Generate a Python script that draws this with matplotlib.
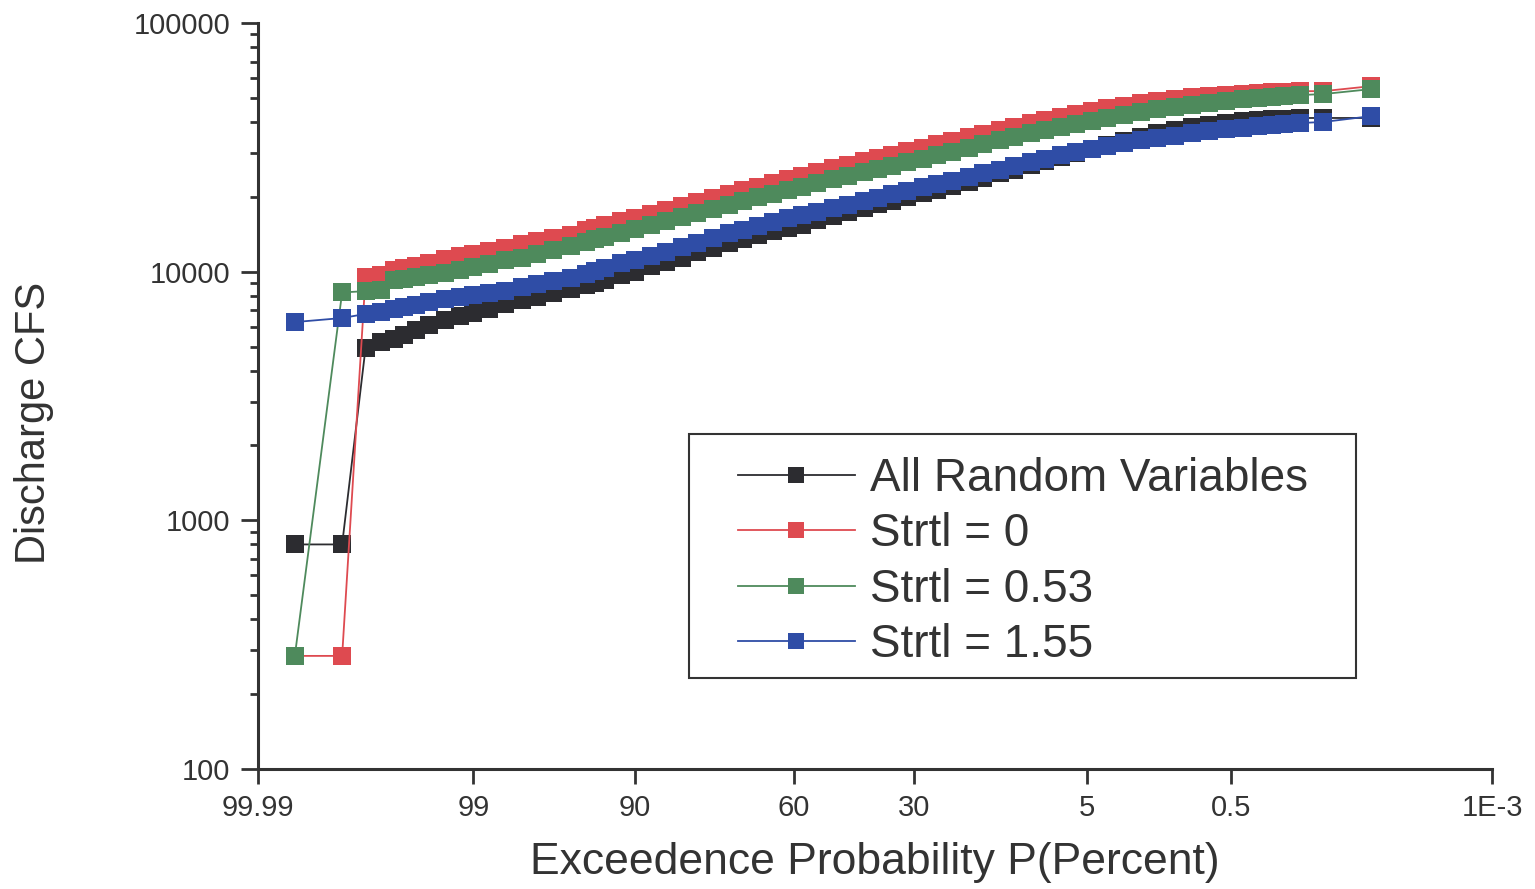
import matplotlib
matplotlib.use('Agg')
from matplotlib import pyplot as plt
from matplotlib.patches import Rectangle
from matplotlib.ticker import FixedLocator, NullFormatter
from statistics import NormalDist
import numpy as np

# exceedance probability (percent) of each plotted point
exceed_pct = [99.975, 99.925, 99.875, 99.825, 99.775, 99.725, 99.65, 99.55, 99.4, 99.2,
              99.0, 98.7, 98.3, 97.8, 97.2, 96.5, 95.5, 94.5, 93.8, 93, 91.5,
              90, 88, 86, 83.5, 81, 78, 75, 72, 68.5, 65,
              61.5, 58, 54, 50, 46, 42, 38.5, 35, 31.5, 28,
              25, 22, 19, 16.5, 14, 12, 10, 8.5, 7, 5.8,
              4.7, 3.8, 3.0, 2.3, 1.8, 1.35, 1.0, 0.75, 0.55, 0.4,
              0.3, 0.225, 0.175, 0.125, 0.075, 0.025]

q_all = [800, 800, 4930, 5200, 5360, 5560, 5820, 6100, 6390, 6630,
         6830, 7090, 7410, 7690, 7910, 8200, 8520, 8830, 9040, 9250, 9690,
         10000, 10500, 10900, 11400, 12000, 12400, 13000, 13500, 14000, 14600,
         15000, 15400, 16100, 16700, 17400, 18000, 18700, 19200, 19900, 20700,
         21300, 22100, 22900, 23800, 25000, 25600, 26800, 27800, 28900, 30000,
         31100, 32300, 33500, 34800, 36100, 37100, 38100, 38800, 39600, 40300,
         40700, 41100, 41100, 41500, 41500, 41500]

q_s0 = [285, 285, 9500, 9690, 10200, 10300, 10500, 10800, 11200, 11600,
        11800, 12100, 12500, 12900, 13300, 13600, 14100, 14700, 15050, 15400, 16000,
        16400, 17000, 17700, 18300, 19000, 19700, 20500, 21300, 21900, 22800,
        23600, 24200, 25100, 26000, 26800, 27800, 28600, 29400, 30500, 31400,
        32600, 33500, 34700, 35700, 37100, 38100, 39600, 40700, 41800, 43000,
        44200, 45400, 46300, 47600, 48500, 49500, 50400, 50900, 51300, 51800,
        52300, 52800, 52800, 53200, 53200, 55700]

q_s053 = [285, 8250, 8350, 8430, 9250, 9340, 9500, 9690, 9900, 10200,
          10400, 10700, 11100, 11400, 11800, 12200, 12700, 13200, 13500, 13800, 14300,
          14800, 15400, 16000, 16600, 17200, 17900, 18500, 19200, 20000, 20500,
          21300, 21900, 22800, 23600, 24200, 25100, 25900, 26600, 27600, 28300,
          29400, 30200, 31400, 32600, 33800, 34700, 36100, 37100, 38100, 39200,
          40300, 41500, 42600, 43800, 45000, 45900, 46800, 47700, 48500, 49500,
          49900, 50400, 50900, 51300, 51800, 54200]

q_s155 = [6270, 6510, 6760, 6890, 7090, 7230, 7340, 7550, 7760, 7910,
          8050, 8200, 8350, 8680, 8920, 9170, 9440, 9780, 10050, 10300, 10800,
          11100, 11600, 12000, 12600, 13100, 13700, 14300, 14700, 15200, 15800,
          16400, 16900, 17400, 18100, 18500, 19200, 19800, 20500, 21100, 21900,
          22500, 23100, 24000, 25000, 25600, 26600, 27600, 28300, 29400, 30200,
          31100, 32000, 32900, 33800, 34400, 35100, 36100, 36800, 37500, 37800,
          38500, 38800, 39200, 39600, 40000, 42200]

series_labels = ['All Random Variables', 'Strtl = 0', 'Strtl = 0.53', 'Strtl = 1.55']
series_colors = ['#2c2c30', '#de4a50', '#4e8a5c', '#2f4da6']

x_tick_pct = [99.99, 99, 90, 60, 30, 5, 0.5, 1e-3]
x_tick_labels = ['99.99', '99', '90', '60', '30', '5', '0.5', '1E-3']
y_ticks = [100, 1000, 10000, 100000]
y_tick_labels = ['100', '1000', '10000', '100000']

nd = NormalDist()
def prob_scale(pcts):
    """normal probability position of an exceedance percentage"""
    return np.array([nd.inv_cdf(1 - p / 100.0) for p in pcts])

plt.rcParams['font.family'] = ['Liberation Sans', 'DejaVu Sans']
txt = '#333333'

fig = plt.figure(figsize=(15.35, 8.89), dpi=100)
ax = fig.add_axes([258/1535, 1 - 769/889, (1492-258)/1535, (769-23)/889])

xs = prob_scale(exceed_pct)
for vals, lab, col in zip([q_all, q_s0, q_s053, q_s155], series_labels, series_colors):
    ax.plot(xs, vals, color=col, lw=1.3, marker='s', ms=13.5, mec=col, mew=0,
            label=lab)

ax.set_yscale('log')
ax.set_ylim(100, 100000)
xt = prob_scale(x_tick_pct)
ax.set_xlim(xt[0], xt[-1])
ax.set_xticks(xt)
ax.set_xticklabels(x_tick_labels)
ax.yaxis.set_major_locator(FixedLocator(y_ticks))
ax.set_yticklabels(y_tick_labels)
minors = [m * 10**d for d in range(2, 5) for m in range(2, 10)]
ax.yaxis.set_minor_locator(FixedLocator(minors))
ax.yaxis.set_minor_formatter(NullFormatter())

for s in ['top', 'right']:
    ax.spines[s].set_visible(False)
for s in ['left', 'bottom']:
    ax.spines[s].set_linewidth(2.2)
    ax.spines[s].set_color(txt)

ax.tick_params(axis='y', which='major', direction='out', length=12, width=2,
               colors=txt, labelsize=21, pad=8)
ax.tick_params(axis='y', which='minor', direction='out', length=6, width=2, colors=txt)
ax.tick_params(axis='x', which='major', direction='out', length=11, width=2,
               colors=txt, labelsize=21, pad=7)

ax.set_xlabel('Exceedence Probability P(Percent)', fontsize=32, color=txt)
ax.xaxis.set_label_coords(0.5, -0.098)
ax.set_ylabel('Discharge CFS', fontsize=30, color=txt)
ax.yaxis.set_label_coords(-0.165, 0.464)

# legend box drawn separately so the padding matches
fig.patches.append(Rectangle((689/1535, 1 - 678/889), 667/1535, 244/889,
                             transform=fig.transFigure, fill=False,
                             edgecolor=txt, linewidth=1.5))
leg = ax.legend(loc='upper left', bbox_to_anchor=(738/1535, 1 - 457/889),
                bbox_transform=fig.transFigure, fontsize=33, frameon=False,
                borderpad=0, handlelength=2.55, handletextpad=0.33,
                labelspacing=0.25, numpoints=1, borderaxespad=0)
for t in leg.get_texts():
    t.set_color(txt)
for h in leg.legend_handles:
    h.set_markersize(11.5)

fig.savefig('out.png', dpi=100)
